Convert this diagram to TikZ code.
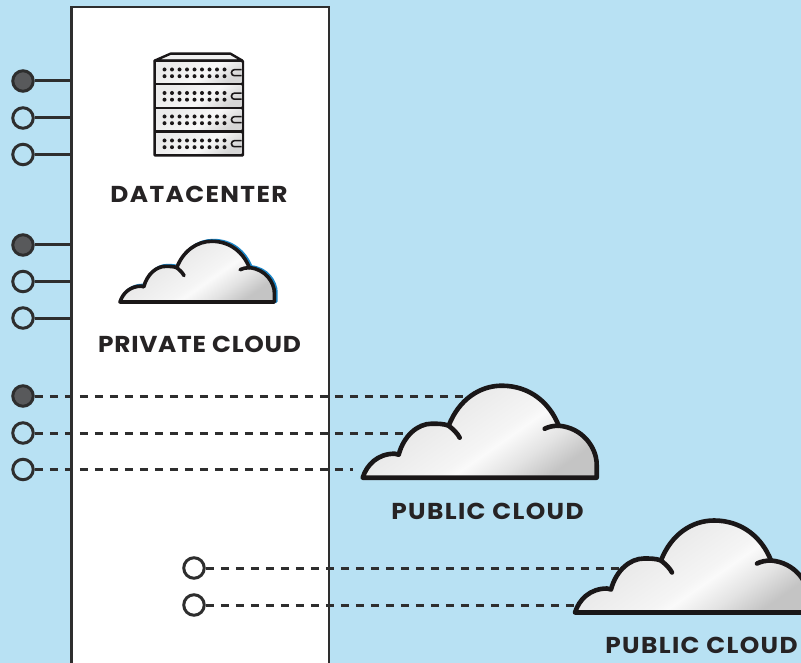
\documentclass[tikz,border=0pt]{standalone}
\usepackage{fontspec}
\setmainfont{Poppins}
\usetikzlibrary{calc}
\definecolor{skybg}{HTML}{B8E1F3}
\definecolor{ink}{HTML}{1A1718}
\definecolor{wire}{HTML}{2E2E2E}
\definecolor{port}{HTML}{58595B}
\definecolor{edgeblue}{HTML}{1C87C9}
\definecolor{labelink}{HTML}{262324}
\pgfdeclarehorizontalshading{cloudshade}{100bp}{color(0bp)=(black!23); color(25bp)=(black!23); color(34bp)=(black!11); color(43bp)=(black!2); color(46bp)=(black!4); color(75bp)=(black!12); color(100bp)=(black!12)}
\pgfdeclarehorizontalshading{rackshade}{100bp}{color(0bp)=(black!16); color(25bp)=(black!16); color(45bp)=(black!3); color(75bp)=(black!8); color(100bp)=(black!8)}
\newcommand{\cloudshape}{(0,0) .. controls (4,-13) and (15,-24) .. (32,-24) -- (36,-23)
  .. controls (41,-42) and (55,-54) .. (69,-54) .. controls (75,-54) and (81,-54) .. (86,-52)
  .. controls (96,-78) and (117,-92) .. (139,-92) .. controls (167,-92) and (187,-75) .. (196,-52)
  .. controls (220,-50) and (234,-30) .. (234,-13) -- (234,0) -- cycle}
\newcommand{\cloudlw}{4.6pt}
\tikzset{
  cloudfill/.style={line width=\cloudlw,draw=ink,line join=round,line cap=round,
    shading=cloudshade,shading angle=125},
  cloudnotch/.style={line width=\cloudlw,draw=ink,line cap=round,line join=round},
  portopen/.style={circle,draw=wire,line width=3pt,fill=skybg,minimum size=20.5pt,inner sep=0pt},
  portfull/.style={portopen,fill=port},
  portinner/.style={portopen,fill=white},
  tie/.style={draw=wire,line width=3pt},
  dashwire/.style={draw=wire,line width=3pt,dash pattern=on 8pt off 7pt},
  caption/.style={text=labelink,font=\fontsize{23}{23}\selectfont\bfseries\addfontfeature{FakeStretch=1.08,LetterSpace=#1},inner sep=0pt,anchor=center},
  rackunit/.style={shading=rackshade,shading angle=125},
  cloudpic/.pic={
    \path[cloudfill] \cloudshape;
    \draw[cloudnotch] (86,-52) .. controls (91,-48) and (95,-44) .. (97,-40);
    \draw[cloudnotch] (182,-49) .. controls (186,-51) and (191,-52) .. (196,-52);
  },
  blueedge/.pic={
    \path[draw=edgeblue,line width=\cloudlw,line join=round] \cloudshape;
  }
}
\begin{document}
\begin{tikzpicture}[x=1pt,y=-1pt]
\useasboundingbox (0,0) rectangle (801,663);
\clip (0,0) rectangle (801,663);
\fill[skybg] (0,0) rectangle (801,663);
% main panel
\node[draw=wire,line width=2.6pt,fill=white,minimum width=257.5pt,minimum height=680pt,inner sep=0pt,anchor=north west] (panel) at (70.2,5.7) {};
% ports
\node[portfull] (a1) at (23,81) {};
\node[portopen] (a2) at (23,118) {};
\node[portopen] (a3) at (23,154.5) {};
\node[portfull] (b1) at (23,245) {};
\node[portopen] (b2) at (23,281.5) {};
\node[portopen] (b3) at (23,318) {};
\node[portfull] (c1) at (23,396) {};
\node[portopen] (c2) at (23,433) {};
\node[portopen] (c3) at (23,469.5) {};
\node[portinner] (d1) at (194,568) {};
\node[portinner] (d2) at (194,605) {};
% solid ties
\foreach \p in {a1,a2,a3,b1,b2,b3}{
  \draw[tie] (\p.east) -- (\p.east -| panel.west);
}
% dashed connector ends, under the clouds
\coordinate (ec1) at (475,396);
\coordinate (ec2) at (415,433);
\coordinate (ec3) at (353,469.5);
\coordinate (ed1) at (628,568);
\coordinate (ed2) at (585,605);
\draw[dashwire] (c1.east) -- (ec1);
\draw[dashwire] (c2.east) -- (ec2);
\draw[dashwire] (c3.east) -- (ec3);
\draw[dashwire] (d1.east) -- (ed1);
\draw[dashwire] (d2.east) -- (ed2);
% server rack
\begin{scope}[shift={(154.5,52.7)}]
  \draw[fill=black!6,draw=ink,line width=2.4pt,line join=round] (0,8) -- (16,1) -- (76,1) -- (88,8) -- cycle;
  \fill[ink,rounded corners=1.5pt] (-1.2,7) rectangle (89.6,104);
  \foreach \ty in {9.5,33,56.5,80.5}{
    \path[rackunit] (1.5,\ty) rectangle (87,\ty+20.5);
    \foreach \cx in {10,17.5,25,32.5,40,47.5,55,62.5,70}{
      \fill[ink] (\cx,\ty+7.3) circle (2);
      \fill[ink] (\cx,\ty+14) circle (2);
    }
    \draw[ink,line width=1.6pt,rounded corners=2.8pt] (87,\ty+7.5) -- (77,\ty+7.5) -- (77,\ty+13.5) -- (87,\ty+13.5);
  }
\end{scope}
\node[caption=6] (t1) at (199,194.5) {DATACENTER};
% private cloud
\begin{scope}
\renewcommand{\cloudlw}{3.6pt}
\pic[shift={(121.5,301.3)},xscale=0.66,yscale=0.66] {blueedge};
\pic[shift={(120,302)},xscale=0.66,yscale=0.66] {cloudpic};
\end{scope}
\node[caption=3.2] (t2) at (199.5,344) {PRIVATE CLOUD};
% public clouds
\pic[shift={(362.7,477.7)}] {cloudpic};
\node[caption=6] (t3) at (487.5,511.5) {PUBLIC CLOUD};
\pic[shift={(575,612.5)}] {cloudpic};
\node[caption=6] (t4) at (701.5,645.5) {PUBLIC CLOUD};
\end{tikzpicture}
\end{document}
